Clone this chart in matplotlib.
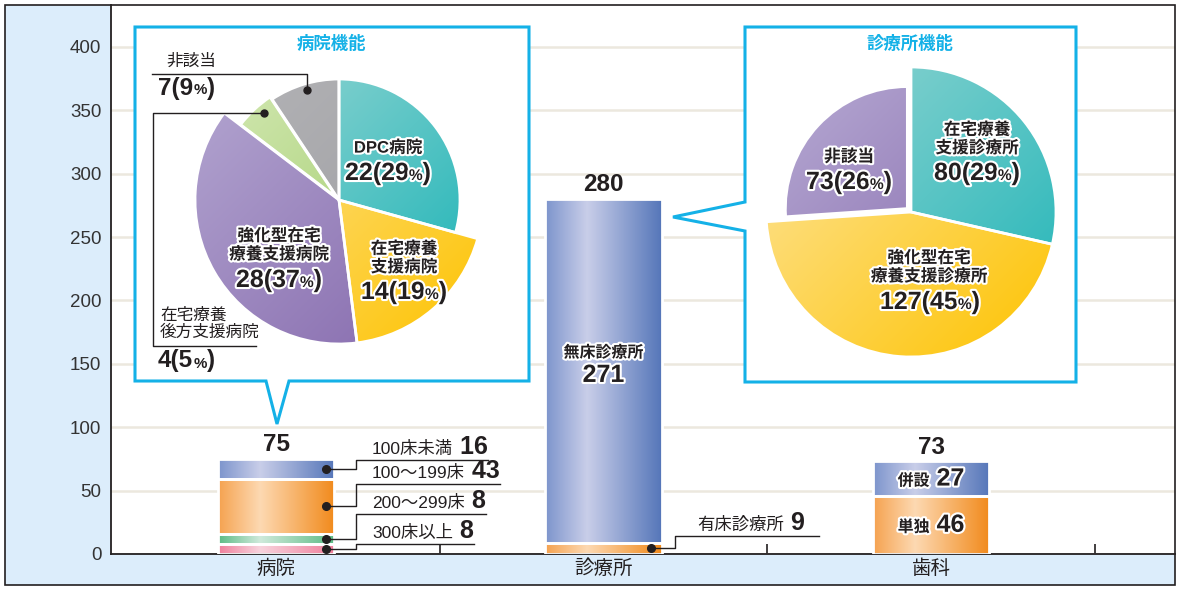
import numpy as np
import matplotlib
matplotlib.use('Agg')
import matplotlib.pyplot as plt
from matplotlib.colors import LinearSegmentedColormap
from matplotlib.patches import Rectangle, Polygon
from matplotlib.offsetbox import TextArea, HPacker, AnnotationBbox
import matplotlib.patheffects as pe

plt.rcParams['font.family'] = ['Liberation Sans', 'Noto Sans CJK JP', 'DejaVu Sans']

# ---------------- data ----------------
categories = ['病院', '診療所', '歯科']
totals = [75, 280, 73]

hospital_labels = ['300床以上', '200～299床', '100～199床', '100床未満']
hospital_values = [8, 8, 43, 16]
clinic_labels = ['有床診療所', '無床診療所']
clinic_values = [9, 271]
dental_labels = ['単独', '併設']
dental_values = [46, 27]

hosp_func_labels = ['DPC病院', '在宅療養\n支援病院', '強化型在宅\n療養支援病院',
                    '在宅療養\n後方支援病院', '非該当']
hosp_func_values = [22, 14, 28, 4, 7]
hosp_func_pct = [29, 19, 37, 5, 9]

clinic_func_labels = ['在宅療養\n支援診療所', '強化型在宅\n療養支援診療所', '非該当']
clinic_func_values = [80, 127, 73]
clinic_func_pct = [29, 45, 26]

yticks = [0, 50, 100, 150, 200, 250, 300, 350, 400]

# ---------------- styling ----------------
W, H = 1180, 590
INK = '#231f20'
CYAN = '#14b1e7'
HALO = [pe.withStroke(linewidth=3, foreground='white')]

BLUE = ['#7c94cc', '#c9cee9', '#5576b9']
ORANGE = ['#f5a24f', '#fdd9b2', '#f18a1c']
GREEN = ['#5dbb85', '#cfeadb', '#5dbb85']
PINK = ['#ef7f9b', '#f8d3dd', '#ef7f9b']

P_TEAL = ('#97d6d3', '#1db4b7')
P_YEL = ('#fee6a4', '#fdc300')
P_PUR = ('#b5a8d2', '#8366ab')
P_GRN = ('#d3e8b3', '#9ac961')
P_GRY = ('#b3b3b6', '#9c9ca0')

fig = plt.figure(figsize=(W / 100, H / 100), dpi=100)
fig.patch.set_facecolor('white')


def P(x, y):
    return (x / W, 1 - y / H)


fig.add_artist(Rectangle(P(5, 585), 1170 / W, 580 / H, transform=fig.transFigure,
                         facecolor='#dcedfb', edgecolor='none', zorder=-5))
fig.add_artist(Rectangle(P(5, 585), 1170 / W, 580 / H, transform=fig.transFigure,
                         facecolor='none', edgecolor=INK, lw=1.2, zorder=20))

ax_l, ax_r, ax_t, ax_b = 111, 1175, 5, 554
ax = fig.add_axes([ax_l / W, 1 - ax_b / H, (ax_r - ax_l) / W, (ax_b - ax_t) / H])
ax.set_facecolor('white')


def gradient_rect(axis, patch, cols):
    cmap = LinearSegmentedColormap.from_list('', list(zip([0, 0.36, 1], cols)))
    x0, y0 = patch.get_x(), patch.get_y()
    im = axis.imshow(np.linspace(0, 1, 256)[None, :], cmap=cmap, aspect='auto',
                     extent=(x0, x0 + patch.get_width(), y0, y0 + patch.get_height()),
                     origin='lower', interpolation='bilinear', zorder=2)
    im.set_clip_path(patch)


x = np.arange(len(categories))
bar_w = 0.355
stacks = [(hospital_values, [PINK, GREEN, ORANGE, BLUE]),
          (clinic_values, [ORANGE, BLUE]),
          (dental_values, [ORANGE, BLUE])]
seg_centers = []
for i, (vals, cols) in enumerate(stacks):
    vals = np.array(vals, dtype=float)
    bottoms = np.concatenate([[0], np.cumsum(vals)[:-1]])
    bars = ax.bar([x[i]] * len(vals), vals, bottom=bottoms, width=bar_w,
                  facecolor='none', edgecolor='white', linewidth=2, zorder=3)
    for b, c in zip(bars, cols):
        gradient_rect(ax, b, c)
    seg_centers.append(bottoms + vals / 2)

ax.set_yticks(yticks)
ax.yaxis.grid(True, color='#ece8de', lw=1.8)
ax.set_axisbelow(True)
ax.tick_params(axis='y', length=0, labelsize=13.5, labelcolor='#333333', pad=7)
ax.set_xticks(x, categories)
ax.tick_params(axis='x', which='major', length=0, labelsize=14, labelcolor=INK, pad=4)
ax.set_xticks([0.5, 1.5, 2.5], minor=True)
ax.tick_params(axis='x', which='minor', direction='in', length=7, width=1.2, color=INK)
for s in ['top', 'right']:
    ax.spines[s].set_visible(False)
for s in ['left', 'bottom']:
    ax.spines[s].set_linewidth(1.3)
    ax.spines[s].set_color(INK)


def rich(axis, parts, xy, align=(0.5, 0.5), halo=False, zorder=6):
    kids = []
    for s, size, weight in parts:
        props = dict(fontsize=size, fontweight=weight, color=INK)
        if halo:
            props['path_effects'] = HALO
        kids.append(TextArea(s, textprops=props))
    box = HPacker(children=kids, align='baseline', pad=0, sep=0)
    ab = AnnotationBbox(box, xy, frameon=False, box_alignment=align, pad=0,
                        annotation_clip=False)
    ab.set_zorder(zorder)
    axis.add_artist(ab)
    return ab


def val_parts(v, p, big=18):
    return [(f'{v}({p}', big, 'bold'), ('%', big * 0.62, 'bold'), (')', big, 'bold')]


# totals above bars
for i, t in enumerate(totals):
    ax.annotate(str(t), (x[i], t), xytext=(0, 2), textcoords='offset points',
                ha='center', va='bottom', fontsize=17.5, fontweight='bold', color=INK)

# clinic inner label
c_in = seg_centers[1][1]
ax.annotate(clinic_labels[1], (x[1], c_in), xytext=(0, 13), textcoords='offset points',
            ha='center', va='center', fontsize=11.5, fontweight='bold', color=INK,
            path_effects=HALO, zorder=6)
ax.annotate(str(clinic_values[1]), (x[1], c_in), xytext=(0, -3), textcoords='offset points',
            ha='center', va='center', fontsize=18, fontweight='bold', color=INK,
            path_effects=HALO, zorder=6)

# dental inner labels
for j in range(2):
    rich(ax, [(dental_labels[j], 11.5, 'bold'), (f' {dental_values[j]}', 18, 'bold')],
         (x[2], seg_centers[2][j]), halo=True)

# hospital leader labels (top row first)
hosp_rows_y = [74, 55, 31.5, 8]
dot_dx, elbow_dx, label_dx = 0.153, 0.244, 0.293
leaders = []
for k in range(4):
    j = 3 - k
    u = hosp_rows_y[k]
    ab = rich(ax, [(hospital_labels[j], 12.5, 'normal'), (f' {hospital_values[j]}', 18, 'bold')],
              (x[0] + label_dx, u + 0.8), align=(0, 0))
    leaders.append((ab, x[0] + dot_dx, seg_centers[0][j], x[0] + elbow_dx, u, 0))

# clinic leader (有床)
u = 14.2
ab = rich(ax, [(clinic_labels[0], 12.5, 'normal'), (f' {clinic_values[0]}', 18, 'bold')],
          (x[1] + 0.285, u + 0.8), align=(0, 0))
leaders.append((ab, x[1] + 0.145, seg_centers[1][0], x[1] + 0.218, u, 14))

ax.set_xlim(-0.504, 2.745)
ax.set_ylim(0, 433)

# ---------------- overlay (pixel coords) ----------------
ov = fig.add_axes([0, 0, 1, 1], zorder=5)
ov.set_facecolor('none')


def Y(y):
    return H - y


callout1 = [(135, 27), (529, 27), (529, 381), (289, 381), (277, 424), (266, 381), (135, 381)]
callout2 = [(745, 27), (1076, 27), (1076, 382), (745, 382), (745, 231), (673, 217), (745, 202)]
for pts in (callout1, callout2):
    ov.add_patch(Polygon([(a, Y(b)) for a, b in pts], closed=True, facecolor='white',
                         edgecolor=CYAN, lw=2.2, joinstyle='miter', zorder=1))


def draw_pie(axis, values, center, radii, explode, colors):
    wedges, _ = axis.pie(values, startangle=90, counterclock=False,
                         center=(center[0], Y(center[1])), radius=1, explode=explode,
                         wedgeprops=dict(facecolor='none', edgecolor='white', linewidth=2),
                         frame=False)
    g = np.linspace(0, 1, 200)
    gx, gy = np.meshgrid(g, g)
    arr = (gx + (1 - gy)) / 2
    for w, r, (c1, c2) in zip(wedges, radii, colors):
        w.set_radius(r)
        w.set_zorder(3)
        cx, cy = w.center
        cmap = LinearSegmentedColormap.from_list('', [c1, c2])
        im = axis.imshow(arr, cmap=cmap, extent=(cx - r, cx + r, cy - r, cy + r),
                         origin='lower', aspect='auto', interpolation='bilinear', zorder=2)
        im.set_clip_path(w)
    return wedges


draw_pie(ov, hosp_func_values, (339, 200), [121, 144, 144, 121, 121], [0, 0, 0, 3, 0],
         [P_TEAL, P_YEL, P_PUR, P_GRN, P_GRY])
draw_pie(ov, clinic_func_values, (911, 212), [145, 145, 122], [0, 0, 5],
         [P_TEAL, P_YEL, P_PUR])

ov.text(331, Y(43), '病院機能', color=CYAN, fontsize=12.5, fontweight='bold',
        ha='center', va='center', zorder=6)
ov.text(910, Y(43), '診療所機能', color=CYAN, fontsize=12.5, fontweight='bold',
        ha='center', va='center', zorder=6)

# pie 1 labels
inside1 = [(0, (388, 148), (388, 173)), (1, (404, 258), (404, 292)), (2, (279, 245), (279, 280))]
for k, lp, vp in inside1:
    ov.text(lp[0], Y(lp[1]), hosp_func_labels[k], fontsize=12, fontweight='bold', color=INK,
            ha='center', va='center', linespacing=1.15, path_effects=HALO, zorder=6)
    rich(ov, val_parts(hosp_func_values[k], hosp_func_pct[k]), (vp[0], Y(vp[1])), halo=True)

ov.text(166, Y(61), hosp_func_labels[4], fontsize=12, color=INK, ha='left', va='center', zorder=6)
rich(ov, val_parts(hosp_func_values[4], hosp_func_pct[4], 17.5), (158, Y(88)), align=(0, 0.5))
ov.text(160, Y(324), hosp_func_labels[3], fontsize=12, color=INK, ha='left', va='center',
        linespacing=1.15, zorder=6)
rich(ov, val_parts(hosp_func_values[3], hosp_func_pct[3], 17.5), (158, Y(361)), align=(0, 0.5))

ov.plot([307, 307, 152], [Y(90), Y(74), Y(74)], color=INK, lw=1, zorder=7)
ov.plot([264, 153, 153, 256], [Y(113), Y(113), Y(346), Y(346)], color=INK, lw=1, zorder=7)
ov.plot([307, 264], [Y(90), Y(113)], 'o', ms=5, color=INK, zorder=7)

# pie 2 labels
inside2 = [(0, (977, 139), (977, 173)), (1, (929, 267), (930, 302)), (2, (849, 157), (849, 182))]
for k, lp, vp in inside2:
    ov.text(lp[0], Y(lp[1]), clinic_func_labels[k], fontsize=12, fontweight='bold', color=INK,
            ha='center', va='center', linespacing=1.15, path_effects=HALO, zorder=6)
    rich(ov, val_parts(clinic_func_values[k], clinic_func_pct[k]), (vp[0], Y(vp[1])), halo=True)

ov.set_xlim(0, W)
ov.set_ylim(0, H)
ov.set_aspect('auto')
ov.set_axis_off()

# ---------------- leader lines measured from label extents ----------------
fig.canvas.draw()
rend = fig.canvas.get_renderer()
inv = ax.transData.inverted()
for ab, dx, yc, ex, u, extra in leaders:
    bb = ab.get_window_extent(rend)
    xend = inv.transform((bb.x1 + extra, 0))[0]
    ax.plot([dx, ex, ex, xend], [yc, yc, u, u], color=INK, lw=1, zorder=5, clip_on=False)
    ax.plot([dx], [yc], 'o', ms=5.5, color=INK, zorder=6)

fig.savefig('out.png', dpi=100)
